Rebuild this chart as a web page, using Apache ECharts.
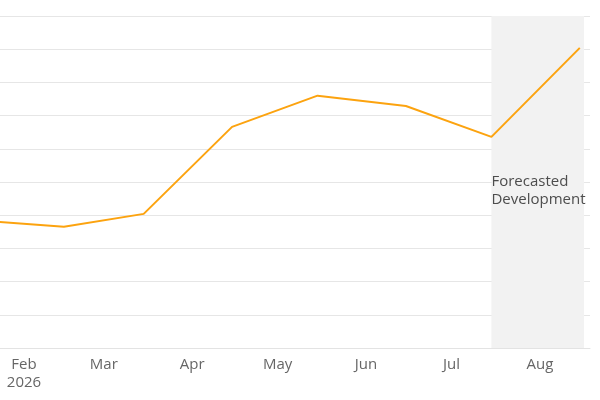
<!DOCTYPE html>
<html>
<head>
<meta charset="utf-8">
<script src="https://cdn.jsdelivr.net/npm/echarts@6/dist/echarts.min.js"></script>
<style>html,body{margin:0;padding:0;background:#fff;}#c{width:600px;height:400px;}</style>
</head>
<body>
<div id="c"></div>
<script>
const dates = ['2026-01-15','2026-02-15','2026-03-15','2026-04-15','2026-05-15','2026-06-15','2026-07-15','2026-08-15'];
const values = [3.85, 3.65, 4.04, 6.66, 7.60, 7.29, 6.36, 9.04];
const monthNames = ['Jan','Feb','Mar','Apr','May','Jun','Jul','Aug','Sep','Oct','Nov','Dec'];
const yearLabelMonth = 1; // Feb gets the year underneath
const yearLabel = '2026';
const forecastStart = '2026-07-15';
const forecastEnd = '2026-08-16 12:00';
const forecastLabel = 'Forecasted\nDevelopment';
const axisMin = '2026-01-23 14:00';
const axisMax = '2026-08-18 14:00';

const chart = echarts.init(document.getElementById('c'));
chart.setOption({
  animation: false,
  grid: { left: 0, right: 10, top: 16, bottom: 52, containLabel: false },
  xAxis: {
    type: 'time',
    min: axisMin,
    max: axisMax,
    minInterval: 28 * 86400000,
    maxInterval: 31 * 86400000,
    splitNumber: 7,
    axisLine: { show: true, lineStyle: { color: '#e3e3e3', width: 1 } },
    axisTick: { show: false },
    splitLine: { show: false },
    axisLabel: {
      color: '#666',
      fontFamily: 'Open Sans',
      fontSize: 15,
      lineHeight: 18,
      margin: 8,
      formatter: function (v) {
        const d = new Date(v);
        const m = d.getMonth();
        return m === yearLabelMonth ? monthNames[m] + '\n' + yearLabel : monthNames[m];
      }
    }
  },
  yAxis: {
    type: 'value',
    min: 0,
    max: 10,
    interval: 1,
    axisLabel: { show: false },
    axisLine: { show: false },
    axisTick: { show: false },
    splitLine: { lineStyle: { color: '#e6e6e6', width: 1 } }
  },
  series: [{
    type: 'line',
    data: dates.map((d, i) => [d, values[i]]),
    showSymbol: false,
    symbol: 'none',
    lineStyle: { color: '#fca30f', width: 2 },
    itemStyle: { color: '#fca30f' },
    clip: true,
    z: 5,
    markArea: {
      silent: true,
      itemStyle: { color: '#f2f2f2' },
      label: {
        show: true,
        position: 'insideLeft',
        distance: 0,
        offset: [0, 9],
        color: '#4d4d4d',
        fontFamily: 'Open Sans',
        fontSize: 15,
        lineHeight: 18,
        align: 'left'
      },
      data: [[{ xAxis: forecastStart, name: forecastLabel }, { xAxis: forecastEnd }]]
    }
  }]
});
</script>
</body>
</html>
